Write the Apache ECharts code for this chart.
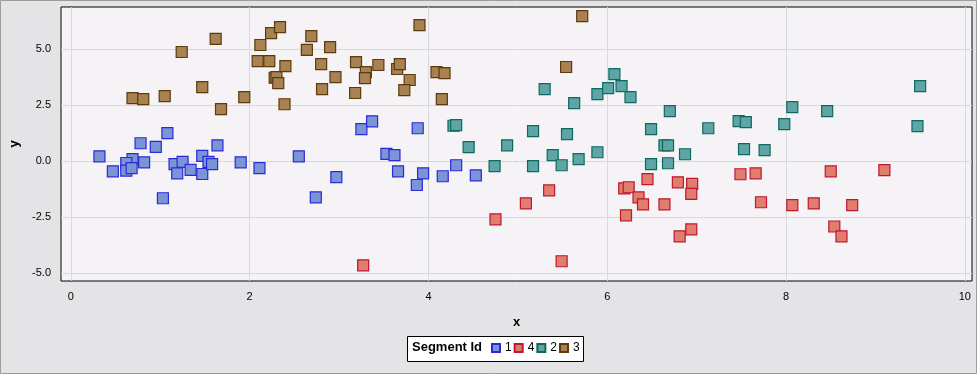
<!DOCTYPE html>
<html>
<head>
<meta charset="utf-8">
<script src="https://cdn.jsdelivr.net/npm/echarts@6/dist/echarts.min.js"></script>
<style>
  html, body { margin: 0; padding: 0; background: #fff; }
  #chart { width: 980px; height: 376px; }
</style>
</head>
<body>
<div id="chart"></div>
<script>
// segment points, [x, y]
var seg1 = [
  [0.32, 0.22], [0.47, -0.45], [0.69, 0.09], [0.62, -0.08], [0.62, -0.42], [0.68, -0.31],
  [0.82, -0.05], [0.78, 0.80], [0.95, 0.64], [1.08, 1.25], [1.16, -0.13], [1.25, -0.03],
  [1.19, -0.54], [1.34, -0.39], [1.47, 0.24], [1.47, -0.57], [1.54, -0.03], [1.58, -0.13],
  [1.64, 0.71], [1.90, -0.05], [2.11, -0.31], [2.55, 0.22], [1.03, -1.65], [2.74, -1.61],
  [2.97, -0.71], [3.25, 1.43], [3.37, 1.78], [3.53, 0.33], [3.62, 0.27], [3.66, -0.45],
  [3.88, 1.47], [3.87, -1.06], [3.94, -0.54], [4.16, -0.67], [4.31, -0.18], [4.53, -0.63]
];
var seg4 = [
  [3.27, -4.64], [4.75, -2.59], [5.09, -1.88], [5.35, -1.30], [5.49, -4.46], [6.19, -1.21],
  [6.24, -1.16], [6.35, -1.61], [6.40, -1.92], [6.21, -2.41], [6.45, -0.80], [6.64, -1.92],
  [6.79, -0.94], [6.95, -1.01], [6.94, -1.46], [6.81, -3.35], [6.94, -3.04], [7.49, -0.58],
  [7.66, -0.54], [7.72, -1.83], [8.07, -1.96], [8.31, -1.88], [8.50, -0.45], [8.54, -2.91],
  [8.62, -3.35], [8.74, -1.96], [9.10, -0.40]
];
var seg2 = [
  [4.28, 1.58], [4.31, 1.61], [4.45, 0.63], [4.74, -0.22], [4.88, 0.71], [5.17, 1.34],
  [5.17, -0.22], [5.30, 3.21], [5.39, 0.27], [5.49, -0.18], [5.55, 1.21], [5.63, 2.59],
  [5.68, 0.09], [5.89, 0.40], [5.89, 2.99], [6.01, 3.26], [6.08, 3.88], [6.16, 3.35],
  [6.26, 2.86], [6.49, 1.43], [6.49, -0.13], [6.70, 2.23], [6.64, 0.71], [6.68, 0.71],
  [6.68, -0.09], [6.87, 0.31], [7.13, 1.47], [7.47, 1.79], [7.55, 1.74], [7.53, 0.54],
  [7.76, 0.49], [7.98, 1.65], [8.07, 2.41], [8.46, 2.23], [9.50, 3.35], [9.47, 1.56]
];
var seg3 = [
  [0.69, 2.81], [0.81, 2.77], [1.05, 2.90], [1.24, 4.87], [1.47, 3.30], [1.62, 5.45],
  [1.68, 2.32], [1.94, 2.86], [2.09, 4.46], [2.12, 5.18], [2.22, 4.46], [2.24, 5.71],
  [2.34, 5.98], [2.28, 3.72], [2.30, 3.75], [2.32, 3.48], [2.40, 4.24], [2.39, 2.54],
  [2.64, 4.96], [2.69, 5.58], [2.80, 4.33], [2.81, 3.21], [2.90, 5.09], [2.96, 3.75],
  [3.19, 4.42], [3.18, 3.04], [3.30, 3.97], [3.29, 3.70], [3.44, 4.29], [3.65, 4.11],
  [3.68, 4.33], [3.79, 3.62], [3.73, 3.17], [3.90, 6.07], [4.09, 3.97], [4.18, 3.93],
  [4.15, 2.77], [5.54, 4.20], [5.72, 6.47]
];

var xTicks = [0, 2, 4, 6, 8, 10];
var yTicks = [-5, -2.5, 0, 2.5, 5];

var chart = echarts.init(document.getElementById('chart'));

var font = '"Liberation Sans", Arial, sans-serif';

function seg(name, data, fill, stroke) {
  return {
    name: name,
    type: 'scatter',
    data: data,
    symbol: 'rect',
    symbolSize: 11,
    z: 3,
    itemStyle: { color: fill, borderColor: stroke, borderWidth: 1.2, opacity: 1 },
    emphasis: { disabled: true }
  };
}

// grid lines go through the axes as markLines on an empty series
var gridLines = {
  type: 'scatter',
  data: [],
  silent: true,
  z: 1,
  markLine: {
    z: 1,
    silent: true,
    symbol: 'none',
    animation: false,
    label: { show: false },
    lineStyle: { color: '#d9d8dc', width: 1, type: 'solid' },
    data: xTicks.map(function (v) { return { xAxis: v }; })
      .concat(yTicks.map(function (v) { return { yAxis: v }; }))
  }
};

var option = {
  animation: false,
  backgroundColor: 'transparent',
  textStyle: { fontFamily: font },
  graphic: [
    {
      type: 'rect', z: -100,
      shape: { x: 0.5, y: 0.5, width: 976, height: 373 },
      style: { fill: '#e4e3e6', stroke: '#9c9c9c', lineWidth: 1 }
    },
    {
      type: 'rect',
      shape: { x: 407.5, y: 336.5, width: 176, height: 25 },
      style: { fill: '#fff', stroke: '#000', lineWidth: 1 }
    },
    {
      type: 'text', left: 412, top: 341,
      style: { text: 'Segment Id', fontFamily: font, fontWeight: 'bold', fontSize: 13, fill: '#000' }
    }
  ],
  grid: {
    left: 61, top: 7, right: 8, bottom: 95,
    show: true,
    backgroundColor: '#f6f3f7',
    borderColor: '#000',
    borderWidth: 1
  },
  legend: {
    left: 491, top: 342,
    itemWidth: 8, itemHeight: 8, itemGap: 2,
    padding: 0,
    icon: 'rect',
    selectedMode: false,
    textStyle: { fontFamily: font, fontSize: 12, color: '#000' },
    data: ['1', '4', '2', '3']
  },
  xAxis: {
    type: 'value',
    min: -0.11, max: 10.08,
    name: 'x',
    nameLocation: 'middle',
    nameGap: 35,
    nameTextStyle: { fontFamily: font, fontWeight: 'bold', fontSize: 13, color: '#000' },
    axisLine: { show: true, lineStyle: { color: '#000', width: 1 } },
    axisTick: { show: true, length: 6, customValues: xTicks, lineStyle: { color: '#000' } },
    axisLabel: { customValues: xTicks, margin: 10, fontSize: 11, color: '#000', fontFamily: font },
    splitLine: { show: false }
  },
  yAxis: {
    type: 'value',
    min: -5.34, max: 6.875,
    name: 'y',
    nameLocation: 'middle',
    nameGap: 40,
    nameTextStyle: { fontFamily: font, fontWeight: 'bold', fontSize: 13, color: '#000' },
    axisLine: { show: true, lineStyle: { color: '#000', width: 1 } },
    axisTick: { show: true, length: 6, customValues: yTicks, lineStyle: { color: '#000' } },
    axisLabel: {
      customValues: yTicks, margin: 10, fontSize: 11, color: '#000', fontFamily: font,
      formatter: function (v) { return v.toFixed(1); }
    },
    splitLine: { show: false }
  },
  series: [
    gridLines,
    seg('1', seg1, '#7b94d6', '#2a2ad8'),
    seg('4', seg4, '#e07d6d', '#c0162f'),
    seg('2', seg2, '#5fa5a5', '#0c6a5f'),
    seg('3', seg3, '#a98253', '#5c3a0b')
  ]
};

chart.setOption(option);
</script>
</body>
</html>
